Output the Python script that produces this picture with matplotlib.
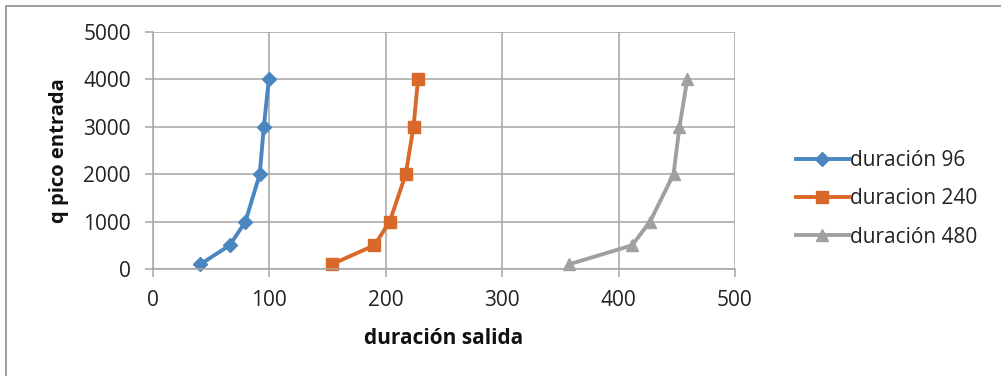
import matplotlib
matplotlib.use("Agg")
import matplotlib.pyplot as plt
from matplotlib.patches import Rectangle

q_pico = [100, 500, 1000, 2000, 3000, 4000]
dur_96 = [40.7, 65.9, 79.4, 91.7, 95.2, 99.5]
dur_240 = [153.7, 190.2, 203.4, 217.1, 223.8, 227.7]
dur_480 = [357.6, 411.6, 427.0, 447.2, 452.3, 459.0]
series_names = ["duración 96", "duracion 240", "duración 480"]
x_ticks = [0, 100, 200, 300, 400, 500]
y_ticks = [0, 1000, 2000, 3000, 4000, 5000]

plt.rcParams['font.family'] = ['Open Sans', 'DejaVu Sans']

W, H = 1001, 376
fig = plt.figure(figsize=(W / 100, H / 100), dpi=100)
ax = fig.add_axes([153 / W, 1 - 269 / H, (735 - 153) / W, (269 - 32) / H])

colors = ["#4a86c0", "#d9692a", "#a0a0a0"]
markers = ["D", "s", "^"]
msizes = [7, 9, 9]
for xs, name, c, m, ms in zip([dur_96, dur_240, dur_480], series_names, colors, markers, msizes):
    ax.plot(xs, q_pico, color=c, lw=2.8, marker=m, ms=ms, mec=c, mfc=c, label=name,
            solid_joinstyle='round', clip_on=False)

ax.set_xlim(0, 500)
ax.set_ylim(0, 5000)
ax.set_xticks(x_ticks)
ax.set_yticks(y_ticks)
ax.grid(True, color="#a6a6a6", lw=1.1)
ax.set_axisbelow(True)
for s in ["top", "right"]:
    ax.spines[s].set_visible(False)
for s in ["left", "bottom"]:
    ax.spines[s].set_color("#a6a6a6")
    ax.spines[s].set_linewidth(1.1)
ax.tick_params(axis='both', colors="#a6a6a6", length=6, width=1.1, labelcolor="#222222", labelsize=15)
ax.tick_params(axis='x', pad=9)
ax.tick_params(axis='y', pad=10)

ax.set_xlabel("duración salida", fontsize=15, fontweight='bold', color="#111111", labelpad=12)
ax.set_ylabel("q pico entrada", fontsize=14.5, fontweight='bold', color="#111111", labelpad=10)

leg = ax.legend(loc='center left', bbox_to_anchor=(786 / W, 1 - 199 / H), bbox_transform=fig.transFigure,
                frameon=False, fontsize=15, handlelength=2.5, handletextpad=0.05, labelspacing=0.82,
                borderpad=0)
for t in leg.get_texts():
    t.set_color("#222222")

fig.patches.append(Rectangle((6 / W, -0.01), 1.0, 1 - 6 / H + 0.01, transform=fig.transFigure,
                             fill=False, edgecolor="#8c8c8c", lw=1.2))

fig.savefig("out.png", dpi=100)
